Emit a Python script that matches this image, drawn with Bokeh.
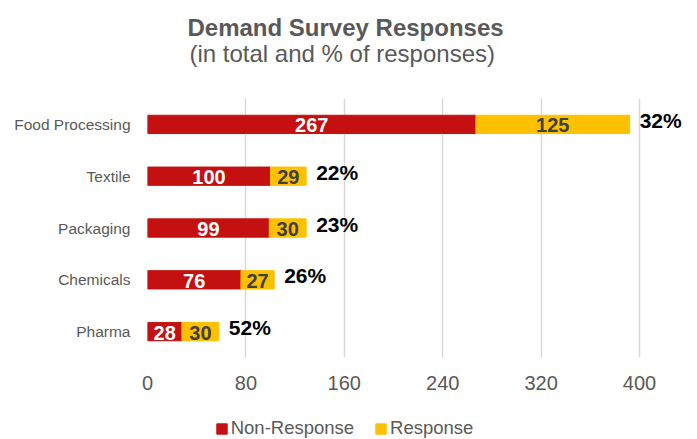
from bokeh.plotting import figure
from bokeh.layouts import column
from bokeh.models import (ColumnDataSource, FactorRange, Range1d, FixedTicker, Title,
                          Legend, LegendItem)
from bokeh.core.properties import value
from bokeh.embed import file_html
from bokeh.resources import INLINE

categories = ["Food Processing", "Textile", "Packaging", "Chemicals", "Pharma"]
non_response = [267, 100, 99, 76, 28]
response = [125, 29, 30, 27, 30]
x_ticks = [0, 80, 160, 240, 320, 400]
title_text = "Demand Survey Responses"
subtitle_text = "(in total and % of responses)"
series_names = ["Non-Response", "Response"]

FONT = "Liberation Sans"
RED = "#C41010"
YELLOW = "#FFC000"
GRAY = "#595959"

totals = [a + b for a, b in zip(non_response, response)]
pct = ["%d%%" % round(100.0 * r / t) for r, t in zip(response, totals)]

src = ColumnDataSource(dict(
    cat=categories,
    nr=non_response,
    r=response,
    total=totals,
    nr_mid=[v / 2.0 for v in non_response],
    r_mid=[a + b / 2.0 for a, b in zip(non_response, response)],
    nr_txt=[str(v) for v in non_response],
    r_txt=[str(v) for v in response],
    pct=pct,
))

W = 697
H_MAIN, H_LEG = 405, 34
p = figure(
    width=W, height=H_MAIN,
    y_range=FactorRange(factors=list(reversed(categories)), range_padding=0),
    x_range=Range1d(0, 447.15),
    output_backend="svg", toolbar_location=None,
    min_border_left=147, min_border_right=0, min_border_top=98, min_border_bottom=48,
)
p.outline_line_color = None
p.background_fill_color = "white"
p.border_fill_color = "white"

BH = 0.353
p.hbar(y="cat", left=0, right="nr", height=BH, source=src, color=RED)
p.hbar(y="cat", left="nr", right="total", height=BH, source=src, color=YELLOW)

p.text(x="nr_mid", y="cat", text="nr_txt", source=src, text_align="center", text_baseline="middle",
       text_font=value(FONT), text_font_style="bold", text_font_size="20px", text_color="white", y_offset=1)
p.text(x="r_mid", y="cat", text="r_txt", source=src, text_align="center", text_baseline="middle",
       text_font=value(FONT), text_font_style="bold", text_font_size="20px", text_color="#404040", y_offset=1)
p.text(x="total", y="cat", text="pct", source=src, text_align="left", text_baseline="middle",
       text_font=value(FONT), text_font_style="bold", text_font_size="21px", text_color="black",
       x_offset=10, y_offset=-4)

# axes
p.xaxis.ticker = FixedTicker(ticks=x_ticks)
p.xaxis.axis_line_color = None
p.xaxis.major_tick_line_color = None
p.xaxis.minor_tick_line_color = None
p.xaxis.major_tick_out = 0
p.xaxis.major_tick_in = 0
p.xaxis.major_label_standoff = 18
p.xaxis.major_label_text_font = FONT
p.xaxis.major_label_text_font_size = "20px"
p.xaxis.major_label_text_color = GRAY

p.yaxis.axis_line_color = None
p.yaxis.major_tick_line_color = None
p.yaxis.major_tick_out = 0
p.yaxis.major_tick_in = 0
p.yaxis.major_label_standoff = 17
p.yaxis.major_label_text_font = FONT
p.yaxis.major_label_text_font_size = "15.5px"
p.yaxis.major_label_text_color = GRAY

p.xgrid.grid_line_color = "#D9D9D9"
p.xgrid.grid_line_width = 1.5
p.ygrid.grid_line_color = None

# titles: spacer (closest to frame), subtitle, main title
p.add_layout(Title(text=" ", text_font=FONT, text_font_size="24px", standoff=3), "above")
p.add_layout(Title(text=subtitle_text, align="left", offset=42, standoff=0, vertical_align="bottom",
                   text_font=FONT, text_font_style="normal", text_font_size="24px",
                   text_color=GRAY), "above")
p.add_layout(Title(text=title_text, align="left", offset=40, standoff=-6, vertical_align="bottom",
                   text_font=FONT, text_font_style="bold", text_font_size="24px",
                   text_color=GRAY), "above")

# legend strip under the chart (same series, hidden renderers only feed the legend)
lf = figure(width=W, height=H_LEG, x_range=p.x_range,
            y_range=FactorRange(factors=list(reversed(categories)), range_padding=0),
            x_axis_location=None, y_axis_location=None, min_border=0,
            output_backend="svg", toolbar_location=None)
lf.outline_line_color = None
lf.xgrid.grid_line_color = None
lf.ygrid.grid_line_color = None
lr1 = lf.hbar(y="cat", left=0, right="nr", height=BH, source=src, color=RED, visible=False)
lr2 = lf.hbar(y="cat", left="nr", right="total", height=BH, source=src, color=YELLOW, visible=False)

lg = Legend(items=[LegendItem(label=series_names[0], renderers=[lr1]),
                   LegendItem(label=series_names[1], renderers=[lr2])])
lg.orientation = "horizontal"
lg.location = (67.7, 0)
lg.margin = 0
lg.padding = 0
lg.spacing = 20
lg.glyph_width = 13
lg.glyph_height = 13
lg.label_standoff = 3
lg.label_text_font = FONT
lg.label_text_font_size = "18.5px"
lg.label_text_color = GRAY
lg.border_line_alpha = 0
lg.background_fill_alpha = 0
lg.inactive_fill_alpha = 0
lf.add_layout(lg, "center")

layout = column(p, lf, spacing=0)
open("out.html", "w").write(file_html(layout, INLINE))
